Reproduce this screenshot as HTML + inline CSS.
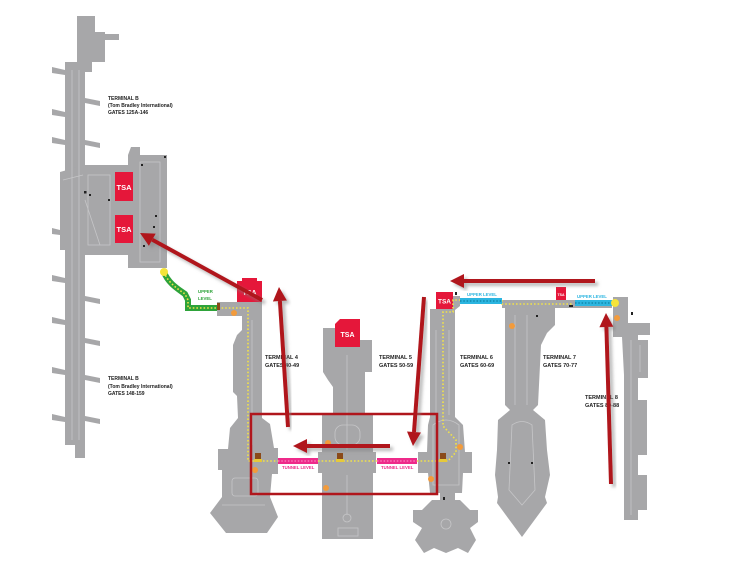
<!DOCTYPE html>
<html><head><meta charset="utf-8"><style>
html,body{margin:0;padding:0;background:#fff;}
svg{display:block;}
text{font-family:"Liberation Sans",sans-serif;font-weight:bold;}
</style></head><body>
<svg width="750" height="576" viewBox="0 0 750 576" xmlns="http://www.w3.org/2000/svg">
<defs>
<filter id="sh" x="-20%" y="-20%" width="140%" height="140%">
<feDropShadow dx="3" dy="3" stdDeviation="1.5" flood-color="#808080" flood-opacity="0.55"/>
</filter>
</defs>
<rect width="750" height="576" fill="#fff"/>

<!-- TERMINAL B -->
<g fill="#a7a7a9">
<polygon points="77,16 95,16 95,32 105,32 105,34 119,34 119,40 105,40 105,62 92,62 92,72 85,72 85,62 77,62"/>
<rect x="65" y="62" width="20" height="383"/>
<rect x="75" y="440" width="10" height="18"/>
<polygon points="60,172 85,165 128,165 128,155 131,147 140,147 140,155 167,155 167,268 128,268 128,255 85,255 85,250 60,250"/>
<!-- left arms -->
<polygon points="52,67 65,70 65,75 52,73"/>
<polygon points="52,109 65,112 65,117 52,115"/>
<polygon points="52,137 65,140 65,145 52,143"/>
<polygon points="52,228 60,230 60,235 52,234"/>
<polygon points="52,275 65,278 65,283 52,281"/>
<polygon points="52,317 65,320 65,325 52,323"/>
<polygon points="52,367 65,370 65,375 52,373"/>
<polygon points="52,414 65,417 65,422 52,420"/>
<!-- right arms -->
<polygon points="85,98 100,101 100,106 85,103"/>
<polygon points="85,140 100,143 100,148 85,145"/>
<polygon points="85,296 100,299 100,304 85,301"/>
<polygon points="85,338 100,341 100,346 85,343"/>
<polygon points="85,375 100,378 100,383 85,380"/>
<polygon points="85,416 100,419 100,424 85,421"/>
</g>
<g stroke="#c6c6c8" stroke-width="0.8" fill="none">
<line x1="72" y1="70" x2="72" y2="440"/>
<line x1="79" y1="70" x2="79" y2="440"/>
<rect x="88" y="175" width="22" height="70"/>
<rect x="140" y="162" width="20" height="100"/>
<line x1="63" y1="180" x2="83" y2="175"/>
<line x1="85" y1="200" x2="100" y2="245"/>
</g>
<g fill="#222">
<rect x="84" y="191" width="2.5" height="2.5"/><rect x="89" y="194" width="2" height="2"/>
<rect x="108" y="199" width="2" height="2"/><rect x="141" y="164" width="2" height="2"/>
<rect x="164" y="156" width="2" height="2"/><rect x="155" y="215" width="2" height="2"/>
<rect x="153" y="226" width="2" height="2"/><rect x="143" y="245" width="2" height="2"/>
</g>
<rect x="115" y="172" width="18" height="29" fill="#e5173a"/>
<rect x="115" y="215" width="18" height="28" fill="#e5173a"/>
<text x="124" y="190" font-size="7.5" fill="#fff" text-anchor="middle">TSA</text>
<text x="124" y="232" font-size="7.5" fill="#fff" text-anchor="middle">TSA</text>

<g font-size="5" fill="#222">
<text x="108" y="100">TERMINAL B</text>
<text x="108" y="107">(Tom Bradley International)</text>
<text x="108" y="114">GATES 125A-146</text>
<text x="108" y="380">TERMINAL B</text>
<text x="108" y="388">(Tom Bradley International)</text>
<text x="108" y="395">GATES 148-159</text>
</g>

<!-- green upper level path -->
<path d="M164,272 C168,283 178,289 185,294 L188,300 L188,308 L218,308" stroke="#2ea33a" stroke-width="6" fill="none"/>
<path d="M164,272 C168,283 178,289 185,294 L188,300 L188,308 L218,308" stroke="#f0e24a" stroke-width="1.6" stroke-dasharray="1.6,2" fill="none"/>
<circle cx="164" cy="272" r="4" fill="#f4e43a"/>
<text x="198" y="293" font-size="4.3" fill="#2ea33a">UPPER</text>
<text x="198" y="300" font-size="4.3" fill="#2ea33a">LEVEL</text>

<!-- TERMINAL 4 -->
<polygon fill="#a7a7a9" points="217,302 262,302 262,340 262,400 262,418 270,424 274,448 278,448 278,474 272,474 270,497 278,517 267,533 226,533 210,513 222,497 222,470 218,470 218,449 228,449 230,428 238,418 237,396 233,392 233,345 237,335 242,330 242,316 217,316"/>
<g stroke="#c6c6c8" stroke-width="0.8" fill="none">
<line x1="252" y1="320" x2="252" y2="445"/>
<rect x="232" y="478" width="26" height="18" rx="3"/>
<line x1="222" y1="505" x2="265" y2="505"/>
</g>
<rect x="237" y="278" width="25" height="24" fill="#e5173a"/>
<rect x="237" y="278" width="5" height="3" fill="#fff"/><rect x="257" y="278" width="5" height="3" fill="#fff"/>
<text x="249.5" y="295" font-size="7" fill="#fff" text-anchor="middle">TSA</text>
<text x="265" y="359" font-size="5.5" fill="#222">TERMINAL 4</text>
<text x="265" y="367" font-size="5.5" fill="#222">GATES 40-49</text>

<!-- TERMINAL 5 -->
<polygon fill="#a7a7a9" points="323,328 335,328 335,327 360,327 360,340 372,340 372,372 365,372 365,415 373,415 373,452 376,452 376,473 373,473 373,539 322,539 322,473 318,473 318,452 322,452 322,415 333,415 333,387 328,380 323,372"/>
<g stroke="#c6c6c8" stroke-width="0.8" fill="none">
<line x1="347" y1="355" x2="347" y2="450"/>
<line x1="347" y1="475" x2="347" y2="515"/>
<circle cx="347" cy="518" r="4"/>
<rect x="335" y="425" width="25" height="20" rx="8"/>
<rect x="338" y="528" width="20" height="8"/>
</g>
<polygon points="340,319 360,319 360,347 335,347 335,324" fill="#e5173a"/>
<text x="347.5" y="337" font-size="7" fill="#fff" text-anchor="middle">TSA</text>
<text x="379" y="359" font-size="5.5" fill="#222">TERMINAL 5</text>
<text x="379" y="367" font-size="5.5" fill="#222">GATES 50-59</text>

<!-- TERMINAL 6 -->
<polygon fill="#a7a7a9" points="430,309 453,309 453,296 460,296 460,306 455,310 455,417 463,425 465,452 472,452 472,473 463,473 462,493 455,493 455,500 460,500 470,510 478,510 478,522 470,528 476,540 468,553 458,548 446,553 434,548 424,553 415,540 422,528 413,522 413,510 422,510 432,500 440,500 440,493 430,493 428,473 418,473 418,452 427,452 428,425 430,417"/>
<g stroke="#c6c6c8" stroke-width="0.8" fill="none">
<line x1="436" y1="330" x2="436" y2="415"/>
<line x1="449" y1="330" x2="449" y2="415"/>
<circle cx="446" cy="524" r="5"/>
<path d="M433,425 Q446,415 459,425 L459,485 L433,485 Z"/>
</g>
<rect x="436" y="292" width="17" height="17" fill="#e5173a"/>
<text x="444.5" y="303.5" font-size="6.5" fill="#fff" text-anchor="middle">TSA</text>
<text x="460" y="359" font-size="5.5" fill="#222">TERMINAL 6</text>
<text x="460" y="367" font-size="5.5" fill="#222">GATES 60-69</text>

<!-- TERMINAL 7 -->
<polygon fill="#a7a7a9" points="502,300 612,300 612,308 555,308 555,325 547,333 541,345 538,405 533,410 545,420 547,450 550,475 545,497 547,503 522,537 497,503 498,497 495,475 497,450 498,420 510,410 505,405 505,308 502,308"/>
<g stroke="#c6c6c8" stroke-width="0.8" fill="none">
<line x1="515" y1="315" x2="515" y2="405"/>
<line x1="527" y1="315" x2="527" y2="405"/>
<path d="M512,425 Q522,418 532,425 L535,490 L522,505 L509,490 Z"/>
</g>
<rect x="556" y="287" width="10" height="13" fill="#e5173a"/>
<text x="561" y="296" font-size="3.5" fill="#fff" text-anchor="middle">TSA</text>
<text x="543" y="359" font-size="5.5" fill="#222">TERMINAL 7</text>
<text x="543" y="367" font-size="5.5" fill="#222">GATES 70-77</text>

<!-- TERMINAL 8 -->
<polygon fill="#a7a7a9" points="613,297 628,297 628,323 650,323 650,335 638,335 638,340 648,340 648,378 638,378 638,400 647,400 647,455 638,455 638,475 647,475 647,510 638,510 638,520 624,520 624,375 622,337 613,337"/>
<g stroke="#c6c6c8" stroke-width="0.8" fill="none">
<line x1="631" y1="340" x2="631" y2="515"/>
<line x1="640" y1="345" x2="640" y2="372"/>
</g>
<text x="585" y="399" font-size="5.5" fill="#222">TERMINAL 8</text>
<text x="585" y="407" font-size="5.5" fill="#222">GATES 80-88</text>

<!-- yellow dotted paths -->
<g stroke="#f0e24a" stroke-width="1.6" stroke-dasharray="1.6,2" fill="none">
<path d="M218,308 L248,308 L248,461 L278,461"/>
<path d="M318,461 L377,461"/>
<path d="M417,461 L448,461 L456,452 L456,440 L443,426 L443,312 L453,312 L453,300 L460,300"/>
<path d="M502,300 L502,304 L573,304"/>
</g>

<!-- blue upper level -->
<rect x="460" y="298" width="42" height="6" fill="#2bb5e0"/>
<rect x="575" y="300" width="38" height="6" fill="#2bb5e0"/>
<g stroke="#0e7fa0" stroke-width="1.2" stroke-dasharray="1.5,1.8"><line x1="460" y1="301" x2="502" y2="301"/><line x1="575" y1="303" x2="613" y2="303"/></g>
<text x="467" y="296" font-size="4.3" fill="#2bb5e0">UPPER LEVEL</text>
<text x="577" y="298" font-size="4.3" fill="#2bb5e0">UPPER LEVEL</text>
<circle cx="615" cy="303" r="4" fill="#f4e43a"/>

<!-- pink tunnel -->
<rect x="278" y="458" width="40" height="6" fill="#ee2a8a"/>
<rect x="377" y="458" width="40" height="6" fill="#ee2a8a"/>
<g stroke="#ff9fd0" stroke-width="1" stroke-dasharray="1.5,1.8"><line x1="278" y1="461" x2="318" y2="461"/><line x1="377" y1="461" x2="417" y2="461"/></g>
<text x="282" y="469" font-size="4.3" fill="#ee2a8a">TUNNEL LEVEL</text>
<text x="381" y="469" font-size="4.3" fill="#ee2a8a">TUNNEL LEVEL</text>

<!-- orange circles -->
<g fill="#f29b3c">
<circle cx="234" cy="313" r="3"/><circle cx="255" cy="470" r="3"/>
<circle cx="328" cy="443" r="3"/><circle cx="326" cy="488" r="3"/>
<circle cx="431" cy="479" r="3"/><circle cx="460" cy="447" r="3"/>
<circle cx="512" cy="326" r="3"/><circle cx="617" cy="318" r="3"/>
</g>
<!-- elevator icons -->
<g>
<rect x="255" y="453" width="6" height="6" fill="#8a4a1a"/><rect x="254" y="459" width="8" height="3" fill="#e6c93a"/>
<rect x="337" y="453" width="6" height="6" fill="#8a4a1a"/><rect x="336" y="459" width="8" height="3" fill="#e6c93a"/>
<rect x="440" y="453" width="6" height="6" fill="#8a4a1a"/><rect x="439" y="459" width="8" height="3" fill="#e6c93a"/>
<rect x="217" y="303" width="3" height="7" fill="#8a4a1a"/>
</g>
<g fill="#222">
<rect x="455" y="292" width="2" height="3"/><rect x="536" y="315" width="2" height="2"/>
<rect x="569" y="305" width="4" height="2"/><rect x="631" y="312" width="2" height="3"/>
<rect x="508" y="462" width="2" height="2"/><rect x="531" y="462" width="2" height="2"/>
<rect x="443" y="497" width="2" height="3"/>
</g>

<!-- red highlight rectangle -->
<rect x="251" y="414" width="186" height="80" fill="none" stroke="#b0161c" stroke-width="2.5"/>

<!-- arrows -->
<g fill="#b0161c" stroke="#b0161c" filter="url(#sh)">
<line x1="262" y1="300" x2="152.3" y2="239.7" stroke-width="4"/>
<polygon points="140,233 155.7,233.6 148.9,245.9" stroke="none"/>
</g>
<g fill="#b0161c" stroke="#b0161c" filter="url(#sh)">
<line x1="288" y1="427" x2="279.9" y2="301" stroke-width="4"/>
<polygon points="279,287 286.9,300.5 272.9,301.5" stroke="none"/>
</g>
<g fill="#b0161c" stroke="#b0161c" filter="url(#sh)">
<line x1="390" y1="446" x2="307" y2="446" stroke-width="4"/>
<polygon points="293,446 307,439 307,453" stroke="none"/>
</g>
<g fill="#b0161c" stroke="#b0161c" filter="url(#sh)">
<line x1="424" y1="297" x2="414" y2="432" stroke-width="4"/>
<polygon points="413,446 421,432.5 407,431.5" stroke="none"/>
</g>
<g fill="#b0161c" stroke="#b0161c" filter="url(#sh)">
<line x1="595" y1="281" x2="464" y2="281" stroke-width="4"/>
<polygon points="450,281 464,274 464,288" stroke="none"/>
</g>
<g fill="#b0161c" stroke="#b0161c" filter="url(#sh)">
<line x1="611" y1="484" x2="606.4" y2="327" stroke-width="4"/>
<polygon points="606,313 613.4,326.8 599.4,327.2" stroke="none"/>
</g>
</svg>
</body></html>
